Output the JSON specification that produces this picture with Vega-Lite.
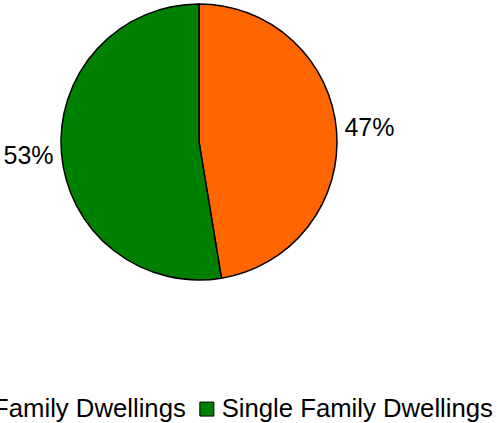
{
  "$schema": "https://vega.github.io/schema/vega-lite/v6.json",
  "width": 398,
  "height": 284,
  "autosize": {"type": "none"},
  "padding": {"left": 0, "top": 0, "right": 99, "bottom": 139},
  "background": "white",
  "config": {"view": {"stroke": null}, "font": "Liberation Sans"},
  "data": {
    "values": [
      {"category": "Multi Family Dwellings", "value": 47.4, "label": "47%"},
      {"category": "Single Family Dwellings", "value": 52.6, "label": "53%"}
    ]
  },
  "encoding": {
    "theta": {"field": "value", "type": "quantitative", "stack": true}
  },
  "layer": [
    {
      "mark": {"type": "arc", "outerRadius": 138, "stroke": "black", "strokeWidth": 1.5},
      "encoding": {
        "color": {
          "field": "category",
          "type": "nominal",
          "scale": {
            "domain": ["Multi Family Dwellings", "Single Family Dwellings"],
            "range": ["#FF6600", "#008000"]
          },
          "legend": {
            "orient": "none",
            "legendX": -96,
            "legendY": 396,
            "direction": "horizontal",
            "columns": 2,
            "title": null,
            "symbolType": "square",
            "symbolSize": 196,
            "symbolStrokeColor": "black",
            "symbolStrokeWidth": 1,
            "symbolOpacity": 1,
            "labelFontSize": 25.7,
            "labelFont": "Liberation Sans",
            "labelColor": "black",
            "labelLimit": 0,
            "labelOffset": 2,
            "columnPadding": 8,
            "padding": 0
          }
        }
      }
    },
    {
      "mark": {"type": "text", "radius": 171, "fontSize": 25, "font": "Liberation Sans", "color": "black"},
      "encoding": {
        "text": {"field": "label"},
        "detail": {"field": "category"}
      }
    }
  ]
}
